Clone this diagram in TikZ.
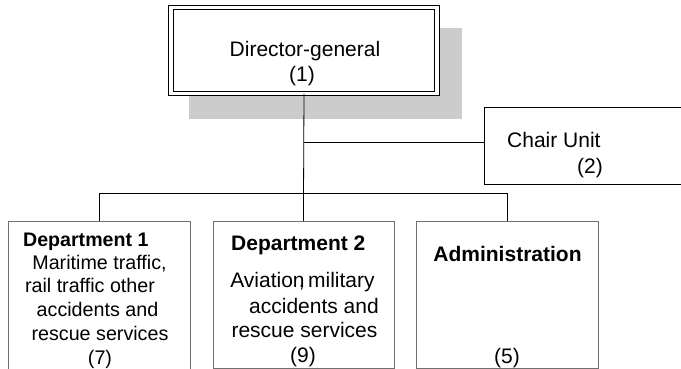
\documentclass[tikz,border=0pt]{standalone}
\usepackage{fontspec}
\setmainfont{Liberation Sans}
\definecolor{shadowgray}{HTML}{CCCCCC}
\definecolor{boxgray}{HTML}{707070}
\tikzset{
  boxbase/.style={rectangle, inner sep=0pt, anchor=north west, line width=0.8pt},
  dgbox/.style={rectangle, inner sep=0pt, draw=black, fill=white, double=white, double distance=3.4pt, line width=0.9pt},
  chairbox/.style={boxbase, draw=black, fill=white},
  deptbox/.style={boxbase, draw=boxgray, fill=white},
  conn/.style={draw=black, line width=0.8pt},
  txt/.style={inner sep=0pt, anchor=base, font=\fontsize{21}{25}\selectfont},
  txtb/.style={txt, font=\fontsize{21}{25}\selectfont\bfseries},
  txts/.style={inner sep=0pt, anchor=base, font=\fontsize{19.7}{24}\selectfont},
  txtsb/.style={txts, font=\fontsize{19.6}{24}\selectfont\bfseries},
}
\begin{document}
\begin{tikzpicture}[x=1pt, y=-1pt]
\useasboundingbox (0,0) rectangle (681,369);
\clip (0,0) rectangle (681,369);
\fill[white] (0,0) rectangle (681,369);

% shadow and director box
\fill[shadowgray] (189,28) rectangle (462,119);
\node[dgbox, minimum width=266pt, minimum height=86pt] (dg) at (304,50.5) {};

% other boxes
\node[chairbox, minimum width=210pt, minimum height=77pt] (chair) at (484,107) {};
\node[deptbox, minimum width=182pt, minimum height=190pt] (d1) at (8,221) {};
\node[deptbox, minimum width=181pt, minimum height=147pt] (d2) at (212.5,221) {};
\node[deptbox, minimum width=182pt, minimum height=146.5pt] (adm) at (416,221) {};

% connectors
\coordinate (bus) at (0,193);
\draw[conn] (dg.south) -- (d2.north);
\draw[conn] (dg.south |- chair.west) ++(0,-3.5) -- ([yshift=3.5pt]chair.west);
\draw[conn] (d1.north) |- (bus -| adm.north) -- (adm.north);

% texts
\node[txt] (tdg1) at (305,57) {Director-general};
\node[txt] (tdg2) at (302,81.5) {(1)};

\node[txt, anchor=base west] (tch1) at (507,147) {Chair Unit};
\node[txt] (tch2) at (590,173) {(2)};

\node[txtsb, anchor=base west] (t11) at (23,246) {Department 1};
\node[txts] (t12) at (99.5,269) {Maritime traffic,};
\node[txts] (t13) at (90,292.5) {rail traffic other};
\node[txts] (t14) at (97.5,316) {accidents and};
\node[txts] (t15) at (100,340) {rescue services};
\node[txts] (t16) at (100,364) {(7)};

\node[txtb, anchor=base west] (t21) at (231,250) {Department 2};
\node[txt] (t22) at (302.5,287) {Aviation\llap{,}\,military};
\node[txt] (t23) at (314,313) {accidents and};
\node[txt] (t24) at (304.5,337) {rescue services};
\node[txt] (t25) at (303,362) {(9)};

\node[txtb] (t31) at (507.5,261) {Administration};
\node[txt] (t32) at (507,363) {(5)};
\end{tikzpicture}
\end{document}
